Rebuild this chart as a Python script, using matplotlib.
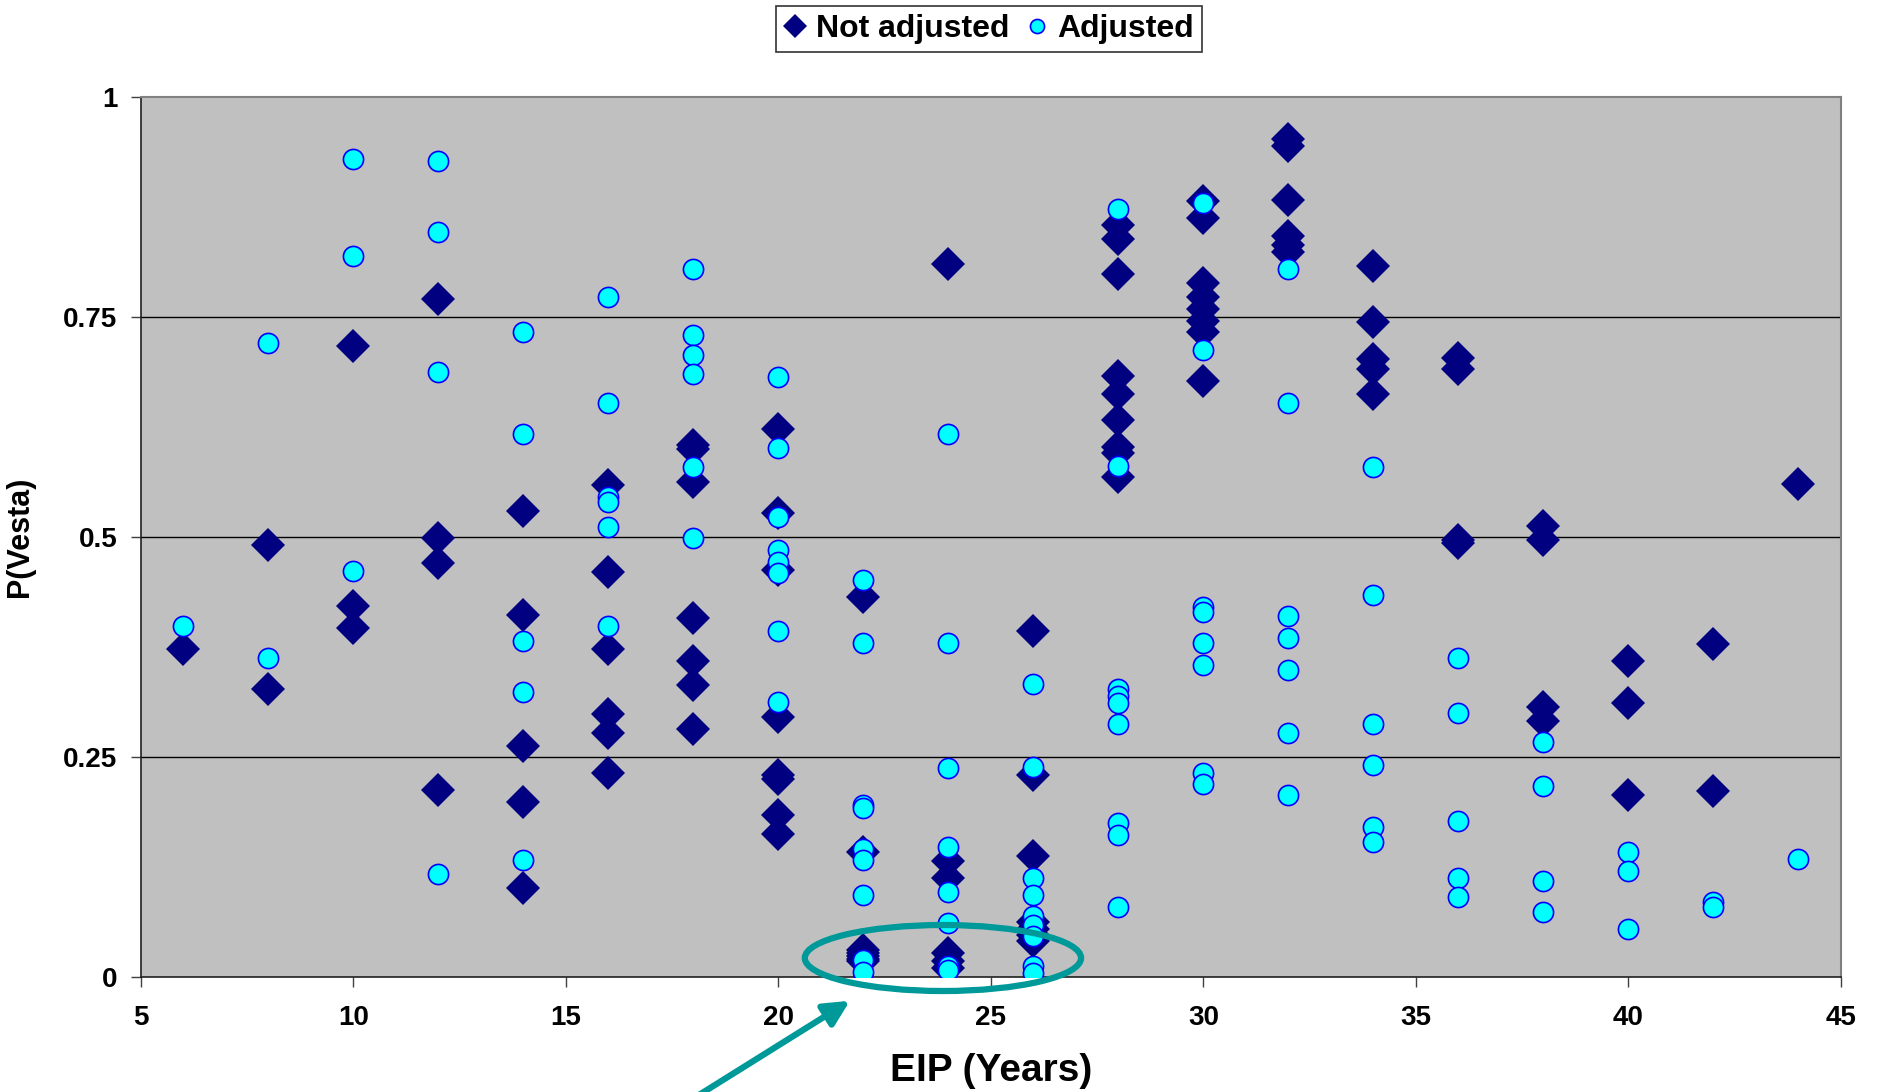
import numpy as np
import matplotlib
matplotlib.use('Agg')
import matplotlib.pyplot as plt
from matplotlib.patches import Ellipse

plt.rcParams['font.family'] = ['Liberation Sans', 'DejaVu Sans']
plt.rcParams['font.weight'] = 'bold'

# EIP values (years) where the runs were done
eip = [6, 8, 10, 12, 14, 16, 18, 20, 22, 24, 26, 28, 30, 32, 34, 36, 38, 40, 42, 44]

# P(Vesta) per EIP, not adjusted
not_adjusted = [
    [0.373],
    [0.491, 0.327],
    [0.717, 0.422, 0.397],
    [0.770, 0.499, 0.471, 0.213],
    [0.530, 0.411, 0.262, 0.199, 0.101],
    [0.559, 0.460, 0.373, 0.299, 0.277, 0.232],
    [0.605, 0.600, 0.563, 0.408, 0.359, 0.332, 0.282],
    [0.623, 0.527, 0.463, 0.295, 0.230, 0.225, 0.184, 0.162],
    [0.432, 0.142, 0.031, 0.027, 0.024, 0.021, 0.018],
    [0.810, 0.132, 0.112, 0.027, 0.018, 0.010],
    [0.393, 0.229, 0.137, 0.062, 0.055, 0.048, 0.041],
    [0.855, 0.839, 0.799, 0.683, 0.662, 0.633, 0.602, 0.595, 0.568],
    [0.882, 0.862, 0.789, 0.773, 0.759, 0.745, 0.733, 0.677],
    [0.952, 0.944, 0.883, 0.842, 0.832, 0.824],
    [0.808, 0.744, 0.702, 0.691, 0.662],
    [0.703, 0.691, 0.497, 0.493],
    [0.513, 0.497, 0.307, 0.291],
    [0.359, 0.311, 0.207],
    [0.378, 0.211],
    [0.560],
]

# P(Vesta) per EIP, adjusted
adjusted = [
    [0.399],
    [0.720, 0.362],
    [0.929, 0.819, 0.461],
    [0.927, 0.847, 0.687, 0.117],
    [0.733, 0.617, 0.382, 0.324, 0.133],
    [0.773, 0.652, 0.545, 0.540, 0.511, 0.399],
    [0.805, 0.730, 0.707, 0.685, 0.579, 0.499],
    [0.682, 0.601, 0.523, 0.485, 0.472, 0.459, 0.393, 0.313],
    [0.451, 0.379, 0.195, 0.192, 0.145, 0.133, 0.093, 0.019, 0.006],
    [0.617, 0.380, 0.237, 0.148, 0.097, 0.061, 0.012, 0.008],
    [0.333, 0.239, 0.113, 0.093, 0.069, 0.059, 0.047, 0.012, 0.005],
    [0.873, 0.581, 0.327, 0.319, 0.311, 0.288, 0.175, 0.161, 0.079],
    [0.880, 0.713, 0.420, 0.415, 0.379, 0.355, 0.232, 0.219],
    [0.805, 0.652, 0.410, 0.385, 0.349, 0.277, 0.207],
    [0.580, 0.434, 0.287, 0.241, 0.170, 0.153],
    [0.363, 0.300, 0.177, 0.112, 0.091],
    [0.267, 0.217, 0.109, 0.074],
    [0.142, 0.121, 0.055],
    [0.085, 0.080],
    [0.134],
]

x_ticks = [5, 10, 15, 20, 25, 30, 35, 40, 45]
y_ticks = [0, 0.25, 0.5, 0.75, 1]
y_tick_labels = ['0', '0.25', '0.5', '0.75', '1']


def flatten(groups):
    xs, ys = [], []
    for x, vals in zip(eip, groups):
        xs += [x] * len(vals)
        ys += vals
    return np.array(xs), np.array(ys)


x_na, y_na = flatten(not_adjusted)
x_ad, y_ad = flatten(adjusted)

fig = plt.figure(figsize=(18.77, 10.92), dpi=100)
ax = fig.add_axes([0.0751, 0.1053, 0.9057, 0.8059])
ax.set_facecolor('#C0C0C0')

for y in [0.25, 0.5, 0.75]:
    ax.axhline(y, color='black', lw=1, zorder=1)

ax.plot(x_na, y_na, linestyle='none', marker='D', ms=17, color='#000080',
        markeredgewidth=0, label='Not adjusted', zorder=3)
ax.plot(x_ad, y_ad, linestyle='none', marker='o', ms=14.5, markerfacecolor='#00FFFF',
        markeredgecolor='#0000FF', markeredgewidth=1.2, label='Adjusted', zorder=4)

ax.set_xlim(5, 45)
ax.set_ylim(0, 1)
ax.set_xticks(x_ticks)
ax.set_yticks(y_ticks)
ax.set_yticklabels(y_tick_labels)
ax.tick_params(axis='both', labelsize=20, length=7, width=1, color='#404040', direction='out')
ax.tick_params(axis='x', pad=13)
ax.tick_params(axis='y', pad=10)

for side in ['top', 'right']:
    ax.spines[side].set_color('#808080')
    ax.spines[side].set_linewidth(1.5)
for side in ['left', 'bottom']:
    ax.spines[side].set_color('#202020')
    ax.spines[side].set_linewidth(1.2)

ax.set_xlabel('EIP (Years)', fontsize=28, fontweight='bold', labelpad=16)
ax.set_ylabel('P(Vesta)', fontsize=22, fontweight='bold', labelpad=20)

# highlight the cluster near zero
ell = Ellipse((23.87, 0.0216), 6.5, 0.075, fill=False, edgecolor='#009999', lw=4.5,
              clip_on=False, zorder=6)
ax.add_patch(ell)
ax.annotate('', xy=(21.68, -0.027), xytext=(17.6, -0.15), xycoords='data', textcoords='data',
            annotation_clip=False,
            arrowprops=dict(arrowstyle='-|>', lw=4.5, color='#009999', mutation_scale=38,
                            shrinkA=0, shrinkB=0))

leg = fig.legend(loc='center', bbox_to_anchor=(0.527, 0.973), ncol=2, frameon=True,
                 fancybox=False, edgecolor='black', fontsize=23, markerscale=0.7,
                 handlelength=0.7, handletextpad=0.3, columnspacing=0.5, borderpad=0.25)
leg.get_frame().set_linewidth(1.2)
for t in leg.get_texts():
    t.set_fontweight('bold')

plt.savefig('out.png', dpi=100)
plt.close()
